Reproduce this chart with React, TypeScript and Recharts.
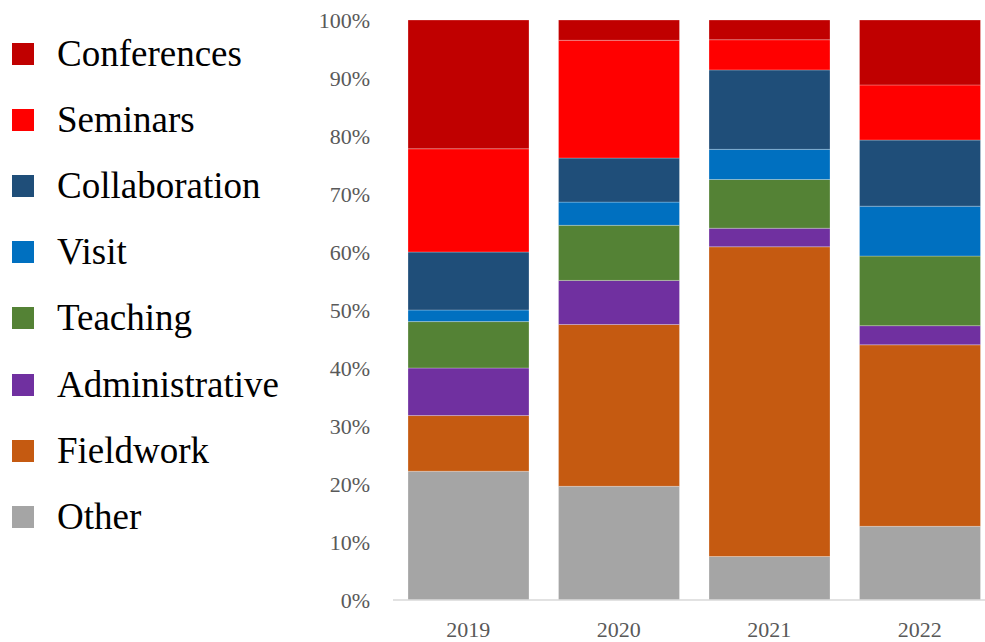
import React from "react";
import { BarChart, Bar, XAxis, YAxis } from "recharts";

const years = ["2019", "2020", "2021", "2022"];

// series listed bottom -> top of the stack
const seriesNames = [
  "Other",
  "Fieldwork",
  "Administrative",
  "Teaching",
  "Visit",
  "Collaboration",
  "Seminars",
  "Conferences",
];
const seriesColors = [
  "#A5A5A5",
  "#C55A11",
  "#7030A0",
  "#548235",
  "#0070C0",
  "#1F4E79",
  "#FF0000",
  "#C00000",
];

// percent shares per year
const other = [22.2, 19.6, 7.5, 12.7];
const fieldwork = [9.6, 27.9, 53.4, 31.3];
const administrative = [8.2, 7.6, 3.2, 3.3];
const teaching = [8.0, 9.5, 8.4, 12.0];
const visit = [2.0, 4.0, 5.2, 8.6];
const collaboration = [10.0, 7.6, 13.7, 11.4];
const seminars = [17.8, 20.3, 5.2, 9.5];
const conferences = [22.2, 3.5, 3.4, 11.2];

const yTicks = [0, 10, 20, 30, 40, 50, 60, 70, 80, 90, 100];

const seriesValues = [
  other,
  fieldwork,
  administrative,
  teaching,
  visit,
  collaboration,
  seminars,
  conferences,
];

const data = years.map((year, i) => {
  const row: Record<string, string | number> = { year };
  seriesNames.forEach((name, s) => {
    row[name] = seriesValues[s][i];
  });
  return row;
});

const font = "'Liberation Serif', 'Times New Roman', serif";

function LegendBox() {
  const items = seriesNames
    .map((name, i) => ({ name, color: seriesColors[i] }))
    .reverse();
  return (
    <div style={{ position: "absolute", left: 0, top: 0 }}>
      {items.map((item, i) => (
        <div
          key={item.name}
          style={{
            position: "absolute",
            left: 12,
            top: 53.5 + i * 66.2 - 20,
            height: 40,
            display: "flex",
            alignItems: "center",
            whiteSpace: "nowrap",
          }}
        >
          <span
            style={{
              display: "inline-block",
              width: 22,
              height: 22,
              background: item.color,
              marginRight: 23,
            }}
          />
          <span
            style={{
              fontFamily: font,
              fontSize: 37,
              color: "#000",
              lineHeight: "40px",
            }}
          >
            {item.name}
          </span>
        </div>
      ))}
    </div>
  );
}

export default function App() {
  return (
    <div
      style={{
        position: "absolute",
        left: 0,
        top: 0,
        width: 985,
        height: 642,
        overflow: "hidden",
        background: "#fff",
      }}
    >
      <BarChart
        width={1010}
        height={642}
        data={data}
        margin={{ top: 20, right: 15, left: 0, bottom: 0 }}
        barCategoryGap={15}
      >
        <XAxis
          dataKey="year"
          height={42}
          axisLine={{ stroke: "#D9D9D9", strokeWidth: 1.5 }}
          tickLine={false}
          tickSize={6}
          tickMargin={15}
          tick={{ fill: "#595959", fontSize: 22, fontFamily: font }}
        />
        <YAxis
          width={393}
          domain={[0, 100]}
          ticks={yTicks}
          allowDataOverflow
          axisLine={false}
          tickLine={false}
          tickSize={6}
          tickMargin={17}
          tickFormatter={(v: number) => `${v}%`}
          tick={{ fill: "#595959", fontSize: 22, fontFamily: font }}
        />
        {seriesNames.map((name, i) => (
          <Bar
            key={name}
            dataKey={name}
            stackId="a"
            fill={seriesColors[i]}
            stroke="#ffffff"
            strokeOpacity={0.35}
            strokeWidth={0.75}
            isAnimationActive={false}
          />
        ))}
      </BarChart>
      <LegendBox />
    </div>
  );
}
